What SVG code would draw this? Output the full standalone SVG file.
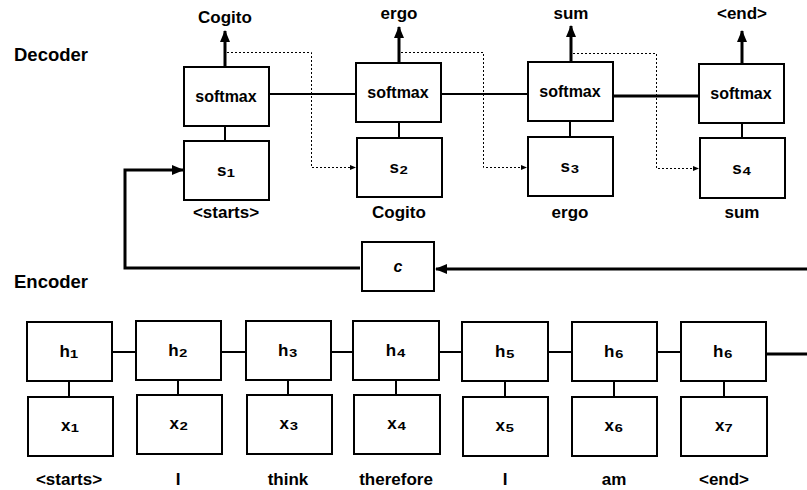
<svg xmlns="http://www.w3.org/2000/svg" width="807" height="490" viewBox="0 0 807 490">
<style>
text{font-family:"Liberation Sans",Arial,"DejaVu Sans",sans-serif;font-weight:bold;fill:#000;text-anchor:middle}
.t{font-size:17px}
.b{font-size:16px}
.v{font-size:17px}
.sub{font-size:21px}
.h{font-size:18.5px;text-anchor:start}
.box{fill:#fff;stroke:#000;stroke-width:2}
.ln{fill:none;stroke:#000;stroke-width:2}
.thk{fill:none;stroke:#000;stroke-width:3}
.dot{fill:none;stroke:#000;stroke-width:1;stroke-dasharray:2,2}
</style>
<defs>
<marker id="ah" markerUnits="userSpaceOnUse" markerWidth="12" markerHeight="12" viewBox="0 0 12 12" refX="11" refY="6" orient="auto"><path d="M0,1 L12,6 L0,11 Z" fill="#000"/></marker>
<marker id="as" markerUnits="userSpaceOnUse" markerWidth="6" markerHeight="6" viewBox="0 0 6 6" refX="5" refY="3" orient="auto"><path d="M0,0.5 L6,3 L0,5.5 Z" fill="#000"/></marker>
</defs>
<text class="h" x="14" y="61">Decoder</text>
<text class="h" x="14" y="288">Encoder</text>
<g id="connectors">
<line class="ln" x1="225" y1="126" x2="225" y2="141"/>
<line class="ln" x1="399" y1="122" x2="399" y2="138"/>
<line class="ln" x1="570" y1="121" x2="570" y2="137"/>
<line class="ln" x1="742" y1="123" x2="742" y2="138"/>
<line class="ln" x1="269" y1="94" x2="356" y2="94"/>
<line class="ln" x1="441" y1="94" x2="528" y2="94"/>
<line class="thk" x1="613" y1="96" x2="699" y2="96"/>
<line class="thk" x1="225" y1="67" x2="225" y2="31" marker-end="url(#ah)"/>
<line class="thk" x1="399" y1="63" x2="399" y2="27" marker-end="url(#ah)"/>
<line class="thk" x1="571" y1="62" x2="571" y2="26" marker-end="url(#ah)"/>
<line class="thk" x1="742" y1="64" x2="742" y2="31" marker-end="url(#ah)"/>
<path class="dot" d="M227,52.5 H311.5 V167.5 H355" marker-end="url(#as)"/>
<path class="dot" d="M401,52.5 H483.5 V167.5 H526" marker-end="url(#as)"/>
<path class="dot" d="M573,53.5 H656.5 V168.5 H698" marker-end="url(#as)"/>
<path class="thk" d="M360,268 H125 V170 H183" marker-end="url(#ah)"/>
<line class="thk" x1="807" y1="269" x2="436" y2="269" marker-end="url(#ah)"/>
<line class="ln" x1="112" y1="352" x2="136" y2="352"/>
<line class="ln" x1="221" y1="352" x2="246" y2="352"/>
<line class="ln" x1="331" y1="352" x2="353" y2="352"/>
<line class="ln" x1="439" y1="352" x2="462" y2="352"/>
<line class="ln" x1="548" y1="352" x2="572" y2="352"/>
<line class="ln" x1="657" y1="352" x2="681" y2="352"/>
<line class="thk" x1="766" y1="354" x2="807" y2="354"/>
<line class="ln" x1="69" y1="381" x2="69" y2="397"/>
<line class="ln" x1="178" y1="380" x2="178" y2="395"/>
<line class="ln" x1="288" y1="380" x2="288" y2="395"/>
<line class="ln" x1="396" y1="380" x2="396" y2="395"/>
<line class="ln" x1="505" y1="381" x2="505" y2="397"/>
<line class="ln" x1="614" y1="381" x2="614" y2="397"/>
<line class="ln" x1="724" y1="381" x2="724" y2="397"/>
</g>
<g id="out1"><text class="t" x="225" y="23">Cogito</text></g>
<g id="out2"><text class="t" x="399" y="19">ergo</text></g>
<g id="out3"><text class="t" x="571" y="19">sum</text></g>
<g id="out4"><text class="t" x="742" y="19">&lt;end&gt;</text></g>
<g id="softmax1"><rect class="box" x="184" y="67" width="85" height="59"/><text class="b" x="226" y="102">softmax</text></g>
<g id="softmax2"><rect class="box" x="356" y="63" width="85" height="59"/><text class="b" x="398" y="98">softmax</text></g>
<g id="softmax3"><rect class="box" x="528" y="62" width="85" height="59"/><text class="b" x="570" y="97">softmax</text></g>
<g id="softmax4"><rect class="box" x="699" y="64" width="85" height="59"/><text class="b" x="741" y="99">softmax</text></g>
<g id="s1"><rect class="box" x="184" y="141" width="85" height="59"/><text class="v" x="226" y="176">s<tspan class="sub">₁</tspan></text><text class="t" x="226" y="218">&lt;starts&gt;</text></g>
<g id="s2"><rect class="box" x="357" y="138" width="85" height="59"/><text class="v" x="399" y="173">s<tspan class="sub">₂</tspan></text><text class="t" x="399" y="218">Cogito</text></g>
<g id="s3"><rect class="box" x="528" y="137" width="85" height="59"/><text class="v" x="570" y="172">s<tspan class="sub">₃</tspan></text><text class="t" x="570" y="218">ergo</text></g>
<g id="s4"><rect class="box" x="700" y="138" width="85" height="60"/><text class="v" x="742" y="174">s<tspan class="sub">₄</tspan></text><text class="t" x="742" y="218">sum</text></g>
<g id="c"><rect class="box" x="362" y="242" width="72" height="49"/><text class="b" x="398" y="272" font-style="italic">c</text></g>
<g id="h1"><rect class="box" x="27" y="322" width="85" height="59"/><text class="v" x="69" y="357">h<tspan class="sub">₁</tspan></text></g>
<g id="h2"><rect class="box" x="136" y="321" width="85" height="59"/><text class="v" x="178" y="356">h<tspan class="sub">₂</tspan></text></g>
<g id="h3"><rect class="box" x="246" y="321" width="85" height="59"/><text class="v" x="288" y="356">h<tspan class="sub">₃</tspan></text></g>
<g id="h4"><rect class="box" x="353" y="321" width="86" height="59"/><text class="v" x="396" y="356">h<tspan class="sub">₄</tspan></text></g>
<g id="h5"><rect class="box" x="462" y="322" width="86" height="59"/><text class="v" x="505" y="357">h<tspan class="sub">₅</tspan></text></g>
<g id="h6"><rect class="box" x="572" y="322" width="85" height="59"/><text class="v" x="614" y="357">h<tspan class="sub">₆</tspan></text></g>
<g id="h7"><rect class="box" x="681" y="322" width="85" height="59"/><text class="v" x="723" y="357">h<tspan class="sub">₆</tspan></text></g>
<g id="x1"><rect class="box" x="28" y="397" width="85" height="59"/><text class="v" x="70" y="431">x<tspan class="sub">₁</tspan></text><text class="t" x="69" y="485">&lt;starts&gt;</text></g>
<g id="x2"><rect class="box" x="137" y="395" width="85" height="59"/><text class="v" x="179" y="429">x<tspan class="sub">₂</tspan></text><text class="t" x="178" y="485">I</text></g>
<g id="x3"><rect class="box" x="247" y="395" width="85" height="59"/><text class="v" x="289" y="429">x<tspan class="sub">₃</tspan></text><text class="t" x="288" y="485">think</text></g>
<g id="x4"><rect class="box" x="354" y="395" width="86" height="59"/><text class="v" x="397" y="429">x<tspan class="sub">₄</tspan></text><text class="t" x="396" y="485">therefore</text></g>
<g id="x5"><rect class="box" x="463" y="397" width="85" height="59"/><text class="v" x="505" y="431">x<tspan class="sub">₅</tspan></text><text class="t" x="505" y="485">I</text></g>
<g id="x6"><rect class="box" x="572" y="397" width="85" height="59"/><text class="v" x="614" y="431">x<tspan class="sub">₆</tspan></text><text class="t" x="614" y="485">am</text></g>
<g id="x7"><rect class="box" x="681" y="397" width="86" height="59"/><text class="v" x="724" y="431">x<tspan class="sub">₇</tspan></text><text class="t" x="724" y="485">&lt;end&gt;</text></g>
</svg>
